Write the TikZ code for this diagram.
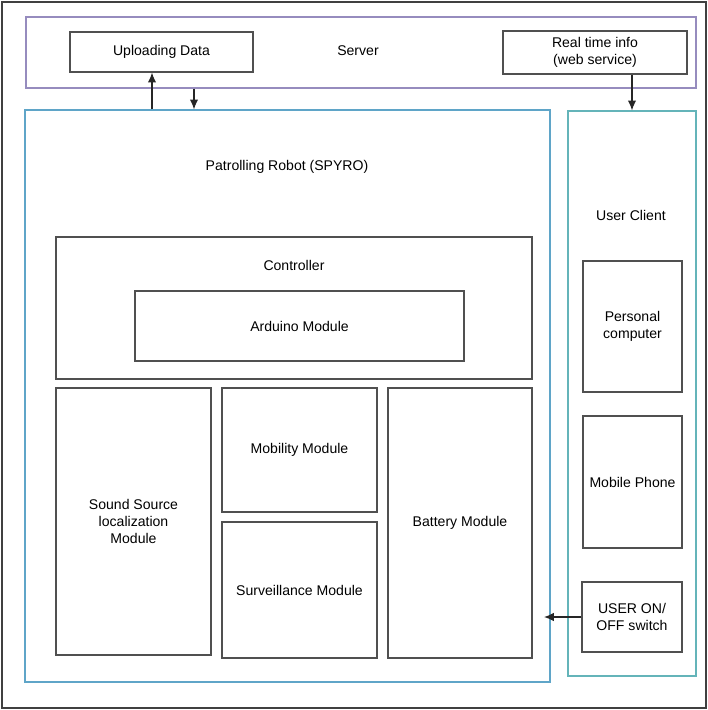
\documentclass[tikz,border=0pt]{standalone}
\usepackage{fontspec}
\setmainfont{Liberation Sans}
\usetikzlibrary{fit,arrows.meta}

\definecolor{serverline}{RGB}{150,140,190}
\definecolor{robotline}{RGB}{95,165,200}
\definecolor{clientline}{RGB}{100,180,185}
\definecolor{boxline}{RGB}{80,80,80}

\tikzset{
    blk/.style={draw=boxline, line width=0.9pt, inner sep=0pt},
    grp/.style={line width=0.9pt, inner sep=0pt},
    txt/.style={align=center},
    arr/.style={-{Latex[length=7pt,width=6pt]}, line width=0.8pt, draw=black!85}
}

\begin{document}
\begin{tikzpicture}[x=0.025cm, y=-0.025cm, font=\fontsize{10}{12}\selectfont]
    \useasboundingbox (0,0) rectangle (708,710);
    % Outer frame
    \draw[line width=0.9pt, draw=black!75] (2,2) rectangle (706,708);

    % Server
    \node[grp, draw=serverline, fit={(26,17) (696,88)}] (server) {};
    \node at (358,51) {Server};
    \node[blk, fit={(70,32) (253,72)}] (upload) {};
    \node[txt] at (upload.center) {Uploading Data};
    \node[blk, fit={(503,31) (687,74)}] (realtime) {};
    \node[txt] at (realtime.center) {Real time info\\(web service)};

    % Robot
    \node[grp, draw=robotline, fit={(25,110) (550,682)}] (robot) {};
    \node at (287,167) {Patrolling Robot (SPYRO)};
    \node[blk, fit={(56,237) (532,379)}] (ctrl) {};
    \node at (294,265) {Controller};
    \node[blk, fit={(135,291) (464,361)}] (arduino) {};
    \node[txt] at (arduino.center) {Arduino Module};
    \node[blk, fit={(56,388) (211,655)}] (sound) {};
    \node[txt] at (sound.center) {Sound Source\\localization\\Module};
    \node[blk, fit={(222,388) (377,512)}] (mobility) {};
    \node[txt] at (mobility.center) {Mobility Module};
    \node[blk, fit={(222,522) (377,658)}] (surveil) {};
    \node[txt] at (surveil.center) {Surveillance Module};
    \node[blk, fit={(388,388) (532,658)}] (battery) {};
    \node[txt] at (battery.center) {Battery Module};

    % User client
    \node[grp, draw=clientline, fit={(568,111) (696,676)}] (client) {};
    \node at (631,215) {User Client};
    \node[blk, fit={(583,261) (682,392)}] (pc) {};
    \node[txt] at (pc.center) {Personal\\computer};
    \node[blk, fit={(583,416) (682,548)}] (phone) {};
    \node[txt] at (phone.center) {Mobile Phone};
    \node[blk, fit={(582,582) (682,652)}] (switch) {};
    \node[txt] at (switch.center) {USER ON/\\OFF switch};

    % Arrows
    \draw[arr] (robot.north -| 152,0) -- (upload.south -| 152,0);
    \draw[arr] (server.south -| 194,0) -- (robot.north -| 194,0);
    \draw[arr] (realtime.south -| 632,0) -- (client.north -| 632,0);
    \draw[arr] (switch.west) -- (switch.west -| 544,0);
\end{tikzpicture}
\end{document}
